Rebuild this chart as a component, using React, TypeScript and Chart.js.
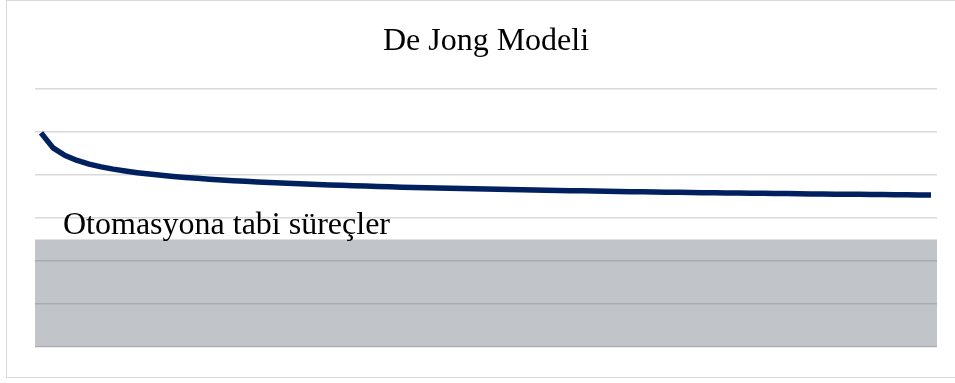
import React, { useEffect, useRef } from "react";
import { Chart, registerables } from "chart.js";

Chart.register(...registerables);

// Unit index (1..75) along the horizontal axis
const unitLabels: string[] = Array.from({ length: 75 }, (_, i) => String(i + 1));

// Time per unit following the De Jong learning curve
const unitTimes: number[] = [
  49.8, 46.31, 44.54, 43.38, 42.54, 41.89, 41.36, 40.92, 40.54, 40.21,
  39.92, 39.66, 39.43, 39.22, 39.02, 38.84, 38.68, 38.53, 38.38, 38.25,
  38.12, 38.0, 37.89, 37.79, 37.69, 37.59, 37.5, 37.42, 37.33, 37.25,
  37.18, 37.1, 37.03, 36.97, 36.9, 36.84, 36.78, 36.72, 36.66, 36.6,
  36.55, 36.5, 36.45, 36.4, 36.35, 36.31, 36.26, 36.22, 36.17, 36.13,
  36.09, 36.05, 36.01, 35.97, 35.94, 35.9, 35.86, 35.83, 35.79, 35.76,
  35.73, 35.7, 35.67, 35.64, 35.61, 35.58, 35.55, 35.52, 35.5, 35.47,
  35.44, 35.41, 35.39, 35.36, 35.33,
];

// Incompressible (automated) share shown as a shaded band
const automatedLevel = 25;
const automatedLabel = "Otomasyona tabi süreçler";
const chartTitle = "De Jong Modeli";

const yMin = 0;
const yMax = 60;
const yStep = 10;

const serif = '"Liberation Serif", "Times New Roman", serif';

const bandLabelPlugin = {
  id: "bandLabel",
  afterDatasetsDraw(chart: any) {
    const { ctx, chartArea, scales } = chart;
    const yTop = scales.y.getPixelForValue(automatedLevel);
    ctx.save();
    ctx.font = `32px ${serif}`;
    ctx.fillStyle = "#000000";
    ctx.textAlign = "left";
    ctx.textBaseline = "alphabetic";
    ctx.fillText(automatedLabel, chartArea.left + 28, yTop - 6);
    ctx.restore();
  },
};

export default function App() {
  const canvasRef = useRef<HTMLCanvasElement | null>(null);

  useEffect(() => {
    if (!canvasRef.current) return;
    const chart = new Chart(canvasRef.current, {
      type: "line",
      data: {
        labels: unitLabels,
        datasets: [
          {
            label: "band",
            xAxisID: "xb",
            data: [
              { x: 0, y: automatedLevel },
              { x: 1, y: automatedLevel },
            ],
            fill: "origin",
            backgroundColor: "rgba(62, 71, 87, 0.32)",
            borderWidth: 0,
            pointRadius: 0,
            order: 2,
          },
          {
            label: "De Jong",
            data: unitTimes,
            borderColor: "#002060",
            borderWidth: 5.5,
            pointRadius: 0,
            tension: 0,
            fill: false,
            borderCapStyle: "butt",
            borderJoinStyle: "round",
            order: 1,
          },
        ],
      },
      options: {
        animation: false,
        responsive: false,
        events: [],
        layout: { padding: { left: 35, right: 18, top: 22, bottom: 36 } },
        plugins: {
          legend: { display: false },
          tooltip: { enabled: false },
          title: {
            display: true,
            text: chartTitle,
            color: "#000000",
            font: { family: serif, size: 32, weight: "normal" },
            padding: { top: 0, bottom: 28.6 },
          },
        },
        scales: {
          x: {
            type: "category",
            offset: true,
            display: false,
          },
          xb: {
            type: "linear",
            min: 0,
            max: 1,
            display: false,
          },
          y: {
            min: yMin,
            max: yMax,
            ticks: { display: false, stepSize: yStep },
            grid: {
              color: "rgba(0, 0, 0, 0.15)",
              lineWidth: 1.5,
              drawTicks: false,
              tickLength: 0,
            },
            border: { display: false },
          },
        },
      } as any,
      plugins: [bandLabelPlugin],
    });
    return () => chart.destroy();
  }, []);

  return (
    <div
      style={{
        position: "absolute",
        left: 0,
        top: 0,
        width: 955,
        height: 383,
        overflow: "hidden",
        background: "#ffffff",
      }}
    >
      <div
        style={{
          position: "absolute",
          left: 6,
          top: 0,
          width: 980,
          height: 378,
          boxSizing: "border-box",
          border: "1px solid #d9d9d9",
        }}
      />
      <canvas
        ref={canvasRef}
        width={955}
        height={383}
        style={{ position: "absolute", left: 0, top: 0 }}
      />
    </div>
  );
}
